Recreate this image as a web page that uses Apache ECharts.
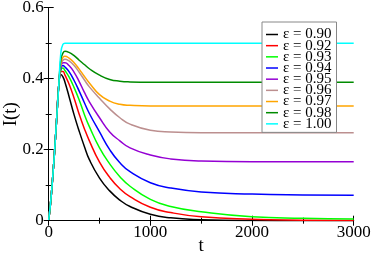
<!DOCTYPE html>
<html><head><meta charset="utf-8">
<script src="https://cdn.jsdelivr.net/npm/echarts@6/dist/echarts.min.js"></script>
<style>html,body{margin:0;padding:0;background:#fff}#c{width:374px;height:254px}</style>
</head><body><div id="c"></div>
<script>
const T = [0, 20, 40, 60, 80, 100, 120, 140, 160, 200, 250, 300, 350, 400, 500, 600, 700, 800, 1000, 1200, 1500, 2000, 2500, 3000];
const labels = ['ε = 0.90','ε = 0.92','ε = 0.93','ε = 0.94','ε = 0.95','ε = 0.96','ε = 0.97','ε = 0.98','ε = 1.00'];
const eps090 = [0.002,0.055,0.125,0.205,0.295,0.385,0.412,0.405,0.39,0.35,0.298,0.252,0.21,0.172,0.12,0.084,0.058,0.04,0.018,0.008,0.003,0.0005,0.0001,0];
const eps092 = [0.002,0.055,0.125,0.205,0.295,0.385,0.42,0.42,0.41,0.385,0.345,0.30,0.26,0.225,0.165,0.122,0.09,0.068,0.038,0.023,0.011,0.004,0.0015,0.0005];
const eps093 = [0.002,0.055,0.125,0.205,0.295,0.385,0.425,0.43,0.423,0.405,0.375,0.34,0.30,0.265,0.205,0.16,0.124,0.097,0.06,0.04,0.025,0.011,0.007,0.005];
const eps094 = [0.002,0.055,0.125,0.205,0.295,0.385,0.43,0.437,0.433,0.42,0.395,0.365,0.333,0.302,0.25,0.2,0.163,0.138,0.107,0.092,0.081,0.075,0.0725,0.0715];
const eps095 = [0.002,0.055,0.125,0.205,0.295,0.385,0.435,0.445,0.445,0.437,0.418,0.392,0.362,0.335,0.29,0.25,0.225,0.205,0.185,0.174,0.168,0.166,0.166,0.166];
const eps096 = [0.002,0.055,0.125,0.205,0.295,0.385,0.44,0.452,0.455,0.45,0.437,0.418,0.397,0.377,0.345,0.315,0.29,0.272,0.255,0.25,0.248,0.248,0.248,0.248];
const eps097 = [0.002,0.055,0.125,0.205,0.295,0.385,0.445,0.46,0.463,0.458,0.445,0.427,0.407,0.388,0.355,0.337,0.328,0.325,0.323,0.323,0.323,0.323,0.323,0.323];
const eps098 = [0.002,0.055,0.125,0.205,0.295,0.385,0.455,0.472,0.477,0.474,0.465,0.452,0.44,0.428,0.41,0.398,0.393,0.391,0.39,0.39,0.39,0.39,0.39,0.39];
const eps100 = [0.002,0.055,0.125,0.205,0.295,0.385,0.475,0.497,0.5,0.5,0.5,0.5,0.5,0.5,0.5,0.5,0.5,0.5,0.5,0.5,0.5,0.5,0.5,0.5];
const xTicks = [0, 1000, 2000, 3000];
const yTicks = [0, 0.2, 0.4, 0.6];

const allSeries = [eps090, eps092, eps093, eps094, eps095, eps096, eps097, eps098, eps100];
const colors = ['#000000','#ff0000','#00ff00','#0000ff','#9400d3','#bc8f8f','#ffa500','#008b00','#00ffff'];
const serif = 'Liberation Serif';

const chart = echarts.init(document.getElementById('c'), null, {renderer: 'canvas'});
const axisCommon = {
  axisLine: {show: true, lineStyle: {color: '#000', width: 1}},
  axisTick: {show: true, inside: true, length: 5, lineStyle: {color: '#000'}},
  minorTick: {show: true, splitNumber: 2, length: 3, lineStyle: {color: '#000'}},
  splitLine: {show: false}
};
chart.setOption({
  animation: false,
  backgroundColor: '#fff',
  color: colors,
  grid: {left: 48.7, right: 20.3, top: 7.7, bottom: 33.3, containLabel: false, outerBoundsMode: 'none'},
  legend: {
    orient: 'vertical', left: 262, top: 22,
    padding: [5, 5, 1, 4],
    icon: 'rect',
    itemWidth: 12, itemHeight: 1.5, itemGap: -3.83,
    backgroundColor: '#fff', borderColor: '#888', borderWidth: 1,
    textStyle: {fontFamily: serif, fontSize: 15, lineHeight: 12, color: '#000'},
    data: labels
  },
  xAxis: [
    Object.assign({type: 'value', min: 0, max: 3000, interval: 1000, position: 'bottom',
      axisLabel: {fontFamily: serif, fontSize: 17, color: '#000', margin: 3,
        formatter: v => xTicks.includes(v) ? String(v) : ''},
      name: 't', nameLocation: 'middle', nameGap: 16, nameMoveOverlap: false,
      nameTextStyle: {fontFamily: serif, fontSize: 19, color: '#000'}}, axisCommon),
    Object.assign({type: 'value', min: 0, max: 3000, interval: 1000, position: 'top',
      axisLabel: {show: false}}, axisCommon)
  ],
  yAxis: [
    Object.assign({type: 'value', min: 0, max: 0.6, interval: 0.2, position: 'left',
      axisLabel: {fontFamily: serif, fontSize: 17, color: '#000', margin: 5,
        formatter: v => { const t = yTicks.find(y => Math.abs(y - v) < 1e-9); return t === undefined ? '' : String(t); }},
      name: 'I(t)', nameLocation: 'middle', nameGap: 28, nameMoveOverlap: false,
      nameTextStyle: {fontFamily: serif, fontSize: 19, color: '#000'}}, axisCommon),
    Object.assign({type: 'value', min: 0, max: 0.6, interval: 0.2, position: 'right',
      axisLabel: {show: false}}, axisCommon)
  ],
  series: allSeries.map((arr, i) => ({
    name: labels[i], type: 'line', smooth: 0.5, symbol: 'none',
    lineStyle: {width: 1.5, color: colors[i]},
    data: T.map((t, j) => [t, arr[j]])
  }))
});
</script></body></html>
